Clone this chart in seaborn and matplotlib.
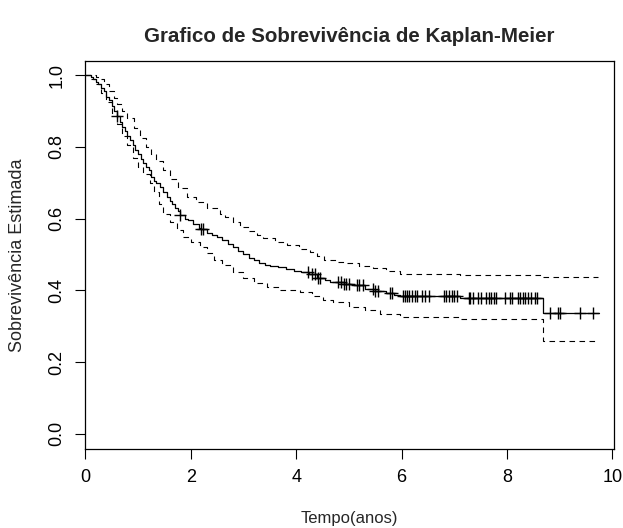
import numpy as np
import pandas as pd
import matplotlib
matplotlib.use("Agg")
import matplotlib.pyplot as plt
import seaborn as sns

# Kaplan-Meier estimate (step values)
km_time = [0.0, 0.1, 0.15, 0.2, 0.25, 0.3, 0.35, 0.4, 0.45, 0.5, 0.55, 0.6, 0.65, 0.7,
           0.75, 0.8, 0.85, 0.9, 0.95, 1.0, 1.05, 1.1, 1.15, 1.2, 1.25, 1.3, 1.35, 1.42,
           1.48, 1.55, 1.6, 1.65, 1.7, 1.76, 1.8, 1.9, 1.95, 2.05, 2.15, 2.2, 2.3, 2.4,
           2.5, 2.6, 2.7, 2.8, 2.9, 3.0, 3.1, 3.2, 3.3, 3.4, 3.5, 3.65, 3.8, 3.95, 4.1,
           4.25, 4.4, 4.55, 4.65, 4.9, 5.1, 5.3, 5.5, 5.7, 5.85, 5.97, 7.1, 8.68, 9.75]
km_surv = [1.0, 0.995, 0.99, 0.98, 0.975, 0.965, 0.955, 0.94, 0.93, 0.915, 0.9, 0.885,
           0.87, 0.855, 0.845, 0.83, 0.82, 0.805, 0.79, 0.78, 0.765, 0.755, 0.745, 0.735,
           0.715, 0.705, 0.7, 0.688, 0.675, 0.66, 0.65, 0.64, 0.63, 0.62, 0.61, 0.6,
           0.595, 0.585, 0.575, 0.57, 0.56, 0.555, 0.548, 0.54, 0.53, 0.52, 0.51, 0.5,
           0.49, 0.485, 0.477, 0.47, 0.468, 0.465, 0.459, 0.455, 0.45, 0.447, 0.434,
           0.428, 0.423, 0.418, 0.414, 0.405, 0.398, 0.392, 0.388, 0.383, 0.379, 0.336,
           0.336]

# Upper 95% confidence limit
up_time = [0.0, 0.2, 0.25, 0.35, 0.45, 0.55, 0.6, 0.7, 0.8, 0.93, 1.04, 1.15, 1.25, 1.35,
           1.48, 1.6, 1.75, 1.93, 2.1, 2.3, 2.56, 2.65, 2.8, 2.94, 3.1, 3.25, 3.38, 3.6,
           3.82, 4.05, 4.26, 4.4, 4.52, 4.75, 4.96, 5.2, 5.46, 5.7, 5.97, 7.1, 8.68, 9.72]
up_surv = [1.0, 0.995, 0.99, 0.975, 0.955, 0.935, 0.92, 0.9, 0.88, 0.852, 0.825, 0.8,
           0.78, 0.76, 0.735, 0.71, 0.685, 0.66, 0.645, 0.63, 0.614, 0.605, 0.59, 0.576,
           0.565, 0.555, 0.546, 0.535, 0.526, 0.515, 0.506, 0.495, 0.484, 0.478, 0.475,
           0.468, 0.462, 0.455, 0.447, 0.442, 0.437, 0.437]

# Lower 95% confidence limit
lo_time = [0.0, 0.1, 0.2, 0.3, 0.4, 0.5, 0.6, 0.7, 0.8, 0.9, 1.0, 1.1, 1.23, 1.3, 1.4,
           1.48, 1.6, 1.74, 1.85, 2.0, 2.18, 2.31, 2.45, 2.6, 2.8, 3.0, 3.2, 3.44, 3.7,
           4.07, 4.3, 4.5, 4.7, 5.0, 5.3, 5.6, 5.97, 7.1, 8.68, 9.72]
lo_surv = [1.0, 0.99, 0.975, 0.95, 0.925, 0.895, 0.865, 0.83, 0.805, 0.77, 0.745, 0.725,
           0.698, 0.675, 0.64, 0.614, 0.59, 0.567, 0.55, 0.535, 0.52, 0.503, 0.485, 0.47,
           0.45, 0.435, 0.42, 0.409, 0.402, 0.395, 0.385, 0.372, 0.367, 0.355, 0.345,
           0.335, 0.325, 0.32, 0.26, 0.26]

# Censored observation times
censor_time = [0.6, 1.8, 2.2, 2.23, 4.22, 4.3, 4.35, 4.42, 4.45, 4.8, 4.85, 4.9, 4.95,
               5.0, 5.15, 5.2, 5.27, 5.45, 5.5, 5.56, 5.78, 5.82, 6.02, 6.06, 6.1, 6.15,
               6.2, 6.25, 6.3, 6.38, 6.45, 6.52, 6.8, 6.85, 6.9, 6.95, 7.0, 7.05, 7.27,
               7.3, 7.35, 7.45, 7.5, 7.6, 7.65, 7.7, 7.75, 7.8, 7.97, 8.05, 8.1, 8.2,
               8.25, 8.3, 8.35, 8.4, 8.45, 8.53, 8.57, 8.82, 8.97, 9.0, 9.39, 9.63]

x_ticks = [0, 2, 4, 6, 8, 10]
y_ticks = [0.0, 0.2, 0.4, 0.6, 0.8, 1.0]
y_ticklabels = ["0.0", "0.2", "0.4", "0.6", "0.8", "1.0"]

sns.set_theme(style="ticks")
plt.rcParams['font.family'] = ['Liberation Sans', 'DejaVu Sans']

W, H = 623, 528
fig = plt.figure(figsize=(W / 100, H / 100), dpi=100)
L, R, T, B = 85.3, 614, 60.7, 449
ax = fig.add_axes([L / W, 1 - B / H, (R - L) / W, (B - T) / H])

km = pd.DataFrame({"t": km_time, "s": km_surv})
up = pd.DataFrame({"t": up_time, "s": up_surv})
lo = pd.DataFrame({"t": lo_time, "s": lo_surv})

sns.lineplot(data=km, x="t", y="s", ax=ax, color="black", lw=0.9,
             drawstyle="steps-post", estimator=None, sort=False)
for d in (up, lo):
    sns.lineplot(data=d, x="t", y="s", ax=ax, color="black", lw=0.8,
                 drawstyle="steps-post", estimator=None, sort=False,
                 dashes=False, linestyle=(0, (5, 4)))

idx = np.searchsorted(np.array(km_time), np.array(censor_time), side="right") - 1
cens = pd.DataFrame({"t": censor_time, "s": np.array(km_surv)[idx]})
sns.scatterplot(data=cens, x="t", y="s", ax=ax, marker="+", s=64, color="black",
                linewidth=1.0)

ax.set_xlim(0, 10.03)
ax.set_ylim(-0.042, 1.04)
ax.set_xticks(x_ticks)
ax.set_xticklabels([str(v) for v in x_ticks])
ax.set_yticks(y_ticks)
ax.set_yticklabels(y_ticklabels, rotation=90, va="center")
ax.tick_params(axis="both", direction="out", length=7.5, width=0.8, colors="black",
               labelsize=13, pad=7)
for sp in ax.spines.values():
    sp.set_color("black")
    sp.set_linewidth(0.9)
ax.set_xlabel("")
ax.set_ylabel("")

fig.text((L + R) / 2 / W, 1 - 37 / H, "Grafico de Sobrevivência de Kaplan-Meier",
         ha="center", va="center", fontsize=14.8, fontweight="bold")
fig.text((L + R) / 2 / W, 1 - 519 / H, "Tempo(anos)", ha="center", va="center",
         fontsize=12)
fig.text(18 / W, 1 - ((T + B) / 2) / H, "Sobrevivência Estimada", ha="center",
         va="center", rotation=90, fontsize=13)

fig.savefig("out.png", dpi=100, facecolor="white")
